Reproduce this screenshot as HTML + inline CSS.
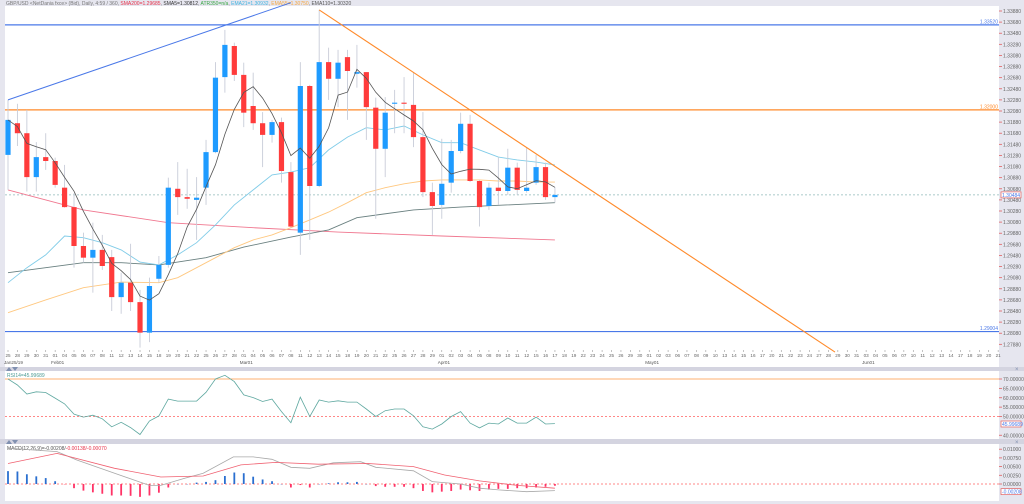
<!DOCTYPE html>
<html><head><meta charset="utf-8"><style>
html,body{margin:0;padding:0;background:#e6e6ef;}
svg{display:block;font-family:"Liberation Sans",sans-serif;}
</style></head><body>
<svg id="chart" width="1024" height="504" viewBox="0 0 1024 504">
<rect x="0" y="0" width="1024" height="504" fill="#e6e6ef"/>
<rect x="5" y="6" width="994" height="344" fill="#ffffff"/>
<rect x="5" y="350" width="994" height="17" fill="#ffffff"/>
<rect x="0" y="367" width="1024" height="4" fill="#d4d4e0"/>
<rect x="5" y="371" width="994" height="68" fill="#ffffff"/>
<rect x="0" y="439" width="1024" height="5" fill="#d4d4e0"/>
<rect x="5" y="444" width="994" height="57" fill="#ffffff"/>
<text x="6" y="5" font-size="5" fill="#777">GBP/USD &lt;NetDania fxce&gt; (Bid), Daily, 4:59 / 360, <tspan fill="#e8334a">SMA200=1.29685</tspan>, <tspan fill="#333">SMA5=1.30812</tspan>, <tspan fill="#3aa845">ATR350=n/a</tspan>, <tspan fill="#3fb3e0">EMA21=1.30932</tspan>, <tspan fill="#f5a742">EMA55=1.30750</tspan>, <tspan fill="#555">EMA110=1.30320</tspan></text>
<text x="7" y="377" font-size="5" fill="#4d9c94">RSI14=45.99689</text>
<text x="7" y="450" font-size="5" fill="#555">MACD(12,26,9)=-0.00208/<tspan fill="#e8334a">-0.00138/-0.00070</tspan></text>
<polygon points="6,371 9,367 12,371" fill="#8090b0"/>
<polygon points="12,367 18,367 15,371" fill="#8090b0"/>
<polygon points="6,444 9,440 12,444" fill="#8090b0"/>
<polygon points="12,440 18,440 15,444" fill="#8090b0"/>
<text x="1015" y="371" font-size="6" fill="#8090b0">×</text>
<text x="1015" y="444" font-size="6" fill="#8090b0">×</text>
<g id="layer"></g>
</svg>
<script>
// ---- data ----
const opens  = [1.3129,1.3186,1.3168,1.3089,1.3125,1.3118,1.3070,1.3035,1.2965,1.2944,1.2958,1.2945,1.2873,1.2899,1.2864,1.2809,1.2906,1.2931,1.3068,1.3053,1.3048,1.3070,1.3134,1.3269,1.3325,1.3273,1.3217,1.3186,1.3165,1.3188,1.3098,1.2989,1.3253,1.3073,1.3296,1.3266,1.3305,1.3275,1.3278,1.3214,1.3140,1.3221,1.3223,1.3219,1.3161,1.3062,1.3039,1.3079,1.3136,1.3185,1.3082,1.3037,1.3070,1.3064,1.3106,1.3064,1.3079,1.3107,1.3053];
const highs  = [1.3228,1.3221,1.3210,1.3152,1.3168,1.3124,1.3111,1.3060,1.2989,1.3007,1.2985,1.2958,1.2917,1.2969,1.2886,1.2908,1.2947,1.3088,1.3116,1.3104,1.3089,1.3156,1.3296,1.3354,1.3331,1.3295,1.3277,1.3206,1.3192,1.3196,1.3116,1.3296,1.3255,1.3390,1.3322,1.3318,1.3318,1.3327,1.3278,1.3232,1.3233,1.3246,1.3269,1.3277,1.3206,1.3079,1.3158,1.3156,1.3205,1.3201,1.3084,1.3079,1.3125,1.3140,1.3115,1.3143,1.3129,1.3115,1.3071];
const lows   = [1.3066,1.3145,1.3063,1.3063,1.3102,1.3070,1.3034,1.2926,1.2935,1.2881,1.2922,1.2848,1.2843,1.2848,1.2782,1.2792,1.2899,1.2926,1.3021,1.3032,1.2976,1.3039,1.3132,1.3241,1.3262,1.3179,1.3174,1.3107,1.3151,1.3079,1.2998,1.2949,1.2976,1.3071,1.3228,1.3215,1.3192,1.3250,1.3156,1.3014,1.3089,1.3168,1.3168,1.3143,1.3053,1.2985,1.3014,1.3061,1.3132,1.3080,1.3000,1.3030,1.3039,1.3057,1.3057,1.3061,1.3075,1.3048,1.3043];
const closes = [1.3192,1.3168,1.3089,1.3125,1.3118,1.3075,1.3035,1.2965,1.2944,1.2958,1.2929,1.2873,1.2899,1.2864,1.2809,1.2893,1.2931,1.3070,1.3053,1.3050,1.3052,1.3134,1.3268,1.3327,1.3273,1.3205,1.3186,1.3165,1.3188,1.3100,1.3000,1.3253,1.3073,1.3296,1.3266,1.3295,1.3280,1.3278,1.3215,1.3140,1.3205,1.3223,1.3221,1.3161,1.3062,1.3037,1.3077,1.3136,1.3185,1.3082,1.3035,1.3070,1.3064,1.3106,1.3066,1.3070,1.3107,1.3053,1.3057];
const sma200Idx = [0,8,17,26,35,46,58];
const sma200Val = [1.3066,1.3030,1.3007,1.2998,1.2990,1.2983,1.2976];
const ema21Idx = [0,2,4,6,8,10,12,14,16,18,20,22,24,26,28,30,32,34,36,38,40,42,44,46,48,50,52,54,56,58];
const ema21Val = [1.2899,1.2926,1.2949,1.2983,1.2980,1.2971,1.2958,1.2936,1.2931,1.2949,1.2971,1.3003,1.3039,1.3066,1.3093,1.3098,1.3106,1.3138,1.3161,1.3178,1.3174,1.3181,1.3165,1.3151,1.3151,1.3138,1.3125,1.3120,1.3116,1.3111];
const ema55Idx = [0,4,8,12,16,18,20,22,24,26,28,30,32,34,36,38,40,42,44,46,48,50,52,54,56,58];
const ema55Val = [1.2845,1.2868,1.2890,1.2900,1.2899,1.2908,1.2926,1.2944,1.2962,1.2976,1.2985,1.2998,1.3012,1.3026,1.3043,1.3061,1.3070,1.3077,1.3082,1.3084,1.3084,1.3084,1.3082,1.3082,1.3080,1.3080];
const ema110Idx = [0,4,8,12,16,21,25,30,34,37,43,48,58];
const ema110Val = [1.2917,1.2926,1.2935,1.2935,1.2931,1.2944,1.2963,1.2981,1.2994,1.3016,1.3030,1.3035,1.3043];
const rsiVals = [70,66.8,62,63.2,62.8,59.8,56.7,51.3,49.7,50.7,48.8,44.5,46.9,44.1,40.4,47.6,50.3,59.3,58.2,58.2,58.2,62.9,70,72,68.6,61.5,60.1,58,59.3,52.6,46.7,60.3,50,58.8,57.7,58.4,57.7,57.7,54,50,53.1,54,54,50.4,44.5,43.3,46,50,52.6,46.5,43.9,46.5,46,49.2,46.5,46.5,49.7,46,46.2];
const histVals = [0.0037,0.0036,0.0028,0.0022,0.0017,0.0008,-0.0001,-0.0012,-0.0019,-0.0024,-0.0028,-0.0033,-0.0033,-0.0034,-0.0037,-0.0033,-0.0025,-0.0010,0,0,0.0004,0.0006,0.0011,0.0023,0.0033,0.0031,0.0021,0.0013,0.0008,0,-0.0010,-0.0003,-0.0010,0,0.0002,0.0005,0.0005,0.0006,0,-0.0006,-0.0008,-0.0008,-0.0008,-0.0012,-0.0020,-0.0024,-0.0022,-0.0020,-0.0016,-0.0018,-0.0020,-0.0016,-0.0014,-0.0014,-0.0012,-0.0012,-0.0010,-0.0008,-0.0005];
const macdIdx = [0,5.2,7.3,11.3,15,16.2,18.7,20.7,23.9,26,28,30,32,34.5,37.4,39,43,45,48,50,52,55,58];
const macdVal = [0.0103,0.0093,0.0069,0.0031,-0.0004,-0.0004,0.0016,0.0031,0.0078,0.0078,0.0071,0.0048,0.0045,0.0061,0.0064,0.0048,0.0038,0.0007,0,-0.0012,-0.0017,-0.0022,-0.0019];
const sigIdx = [0,5.2,11.3,16.2,20.7,24.7,28.4,32.9,38.2,43,46.3,50,54,58];
const sigVal = [0.0059,0.0088,0.0045,0.0020,0.0023,0.0055,0.0062,0.0057,0.0059,0.0050,0.0026,0.0009,-0.0004,-0.0012];
const priceTicks = [1.3388,1.3368,1.3348,1.3328,1.3308,1.3288,1.3268,1.3248,1.3228,1.3208,1.3188,1.3168,1.3148,1.3128,1.3108,1.3088,1.3068,1.3048,1.3028,1.3008,1.2988,1.2968,1.2948,1.2928,1.2908,1.2888,1.2868,1.2848,1.2828,1.2808,1.2788];
const rsiTicks = [70,65,60,55,50,40];
const macdTicks = [0.01,0.0075,0.005,0.0025,0];
const hLines = [{p:1.3363,label:"1.33520",color:"#4a78e8"},{p:1.3210,label:"1.32000",color:"#ff8a2a"},{p:1.2811,label:"1.29004",color:"#4a78e8"}];
const lastPrice = 1.3057;
const blueTrend = [[0,1.3228],[30,1.3403]];
const orangeTrend = [[33,1.3390],[87.7,1.2774]];

// ---- scales ----
const X = i => 8 + 9.43*i;
const Y = p => (1.34078 - p)/0.00018;
const RY = v => 416.5 - (v-50)*1.875;
const MY = v => 484 - v*3480;
const NS = "http://www.w3.org/2000/svg";
const layer = document.getElementById('layer');
function mk(tag, attrs){const e=document.createElementNS(NS,tag);for(const k in attrs)e.setAttribute(k,attrs[k]);layer.appendChild(e);return e;}

// price axis
priceTicks.forEach(p=>{
  const y=Y(p);
  const t=mk('line',{x1:999,x2:1002,y1:y,y2:y,stroke:'#e06060','stroke-width':0.8});
  
  
  const l=mk('text',{x:1003,y:y+2,'font-size':5,fill:'#666'});
  
  
  l.textContent=p.toFixed(5);
});
// date axis
const months=["Jan","Feb","Mar","Apr","May","Jun"];
let d=new Date(2019,0,25); let idx=0; let lastM=-1;
while(idx<=105){
  const dow=d.getDay();
  if(dow!==0&&dow!==6){
    const x=X(idx);
    const tk=mk('line',{x1:x,x2:x,y1:350,y2:352,stroke:'#999','stroke-width':0.6});
    
    
    const tl=mk('text',{x:x,y:357,'font-size':4.6,fill:'#666','text-anchor':'middle'});
    
    
    tl.textContent=String(d.getDate()).padStart(2,'0');
    if(d.getMonth()!==lastM){
      const ml=mk('text',{x:x-4,y:364,'font-size':4.6,fill:'#555'});
      
      
      ml.textContent= idx===0 ? "Jan25/19" : months[d.getMonth()]+"01";
      lastM=d.getMonth();
    }
    idx++;
  }
  d.setDate(d.getDate()+1);
}
// horizontal lines
hLines.forEach(h=>{
  const y=Y(h.p);
  const l=mk('line',{x1:5,x2:999,y1:y,y2:y,stroke:h.color,'stroke-width':1.2});
  
  
  const t=mk('text',{x:998,y:y-1.5,'font-size':5,fill:h.color,'text-anchor':'end'});
  
  
  t.textContent=h.label;
});
const ly=Y(lastPrice);
const lpl=mk('line',{x1:5,x2:999,y1:ly,y2:ly,stroke:'#8fb8b8','stroke-width':0.8,'stroke-dasharray':'2,2'});


const lpb=mk('rect',{x:1001,y:ly-3,width:20,height:6,fill:'#fff',stroke:'#e06060','stroke-width':0.7});


const lpt=mk('text',{x:1002,y:ly+2,'font-size':5,fill:'#4a78e8'});


lpt.textContent="1.30484";

function line(idxs, vals, ys, color, w, name){
  const pts=idxs.map((i,k)=>X(i).toFixed(1)+','+ys(vals[k]).toFixed(1)).join(' ');
  const e=mk('polyline',{points:pts,fill:'none',stroke:color,'stroke-width':w});
  
  
}
// MAs
line(sma200Idx,sma200Val,Y,'#f07890',0.9,'sma200-line');
line(ema110Idx,ema110Val,Y,'#6a8080',0.9,'ema110-line');
line(ema55Idx,ema55Val,Y,'#ffc880',0.9,'ema55-line');
line(ema21Idx,ema21Val,Y,'#80cce8',0.9,'ema21-line');

// candles
closes.forEach((c,i)=>{
  const x=X(i), o=opens[i];
  const w=mk('line',{x1:x,x2:x,y1:Y(highs[i]),y2:Y(lows[i]),stroke:'#c8ccd8','stroke-width':0.9});
  
  
  const top=Y(Math.max(o,c)), bot=Y(Math.min(o,c));
  const b=mk('rect',{x:x-2.6,y:top,width:5.2,height:Math.max(1,bot-top),fill:c>=o?'#1e9bff':'#ff3b3b'});
  
  
});
// SMA5 from closes
const s5i=[],s5v=[];
closes.forEach((c,i)=>{const a=closes.slice(Math.max(0,i-4),i+1);s5i.push(i);s5v.push(a.reduce((s,v)=>s+v,0)/a.length);});
line(s5i,s5v,Y,'#555',0.8,'sma5-line');

// trendlines
line(blueTrend.map(p=>p[0]),blueTrend.map(p=>p[1]),Y,'#4a78e8',1,'blue-trendline');
line(orangeTrend.map(p=>p[0]),orangeTrend.map(p=>p[1]),Y,'#ff8a2a',1.1,'orange-trendline');

// RSI
rsiTicks.forEach(v=>{
  const y=RY(v);
  const t=mk('line',{x1:999,x2:1002,y1:y,y2:y,stroke:'#e06060','stroke-width':0.8});
  
  
  const l=mk('text',{x:1003,y:y+2,'font-size':5,fill:'#666'});
  
  
  l.textContent=v.toFixed(5);
});
const r70=mk('line',{x1:5,x2:999,y1:RY(70),y2:RY(70),stroke:'#ffb070','stroke-width':1});


const r50=mk('line',{x1:5,x2:999,y1:RY(50),y2:RY(50),stroke:'#ff6060','stroke-width':0.7,'stroke-dasharray':'2,2'});


line(rsiVals.map((v,i)=>i),rsiVals,RY,'#5fa8a0',0.8,'rsi-line');
const rb=mk('rect',{x:1001,y:RY(46)-3,width:20,height:6,fill:'#fff',stroke:'#e06060','stroke-width':0.7});


const rt=mk('text',{x:1002,y:RY(46)+2,'font-size':5,fill:'#4a78e8'});


rt.textContent="45.99689";

// MACD
macdTicks.forEach(v=>{
  const y=MY(v);
  const t=mk('line',{x1:999,x2:1002,y1:y,y2:y,stroke:'#e06060','stroke-width':0.8});
  
  
  const l=mk('text',{x:1003,y:y+2,'font-size':5,fill:'#666'});
  
  
  l.textContent=v.toFixed(5);
});
const mz=mk('line',{x1:5,x2:999,y1:MY(0),y2:MY(0),stroke:'#ff6060','stroke-width':0.7,'stroke-dasharray':'2,2'});


histVals.forEach((v,i)=>{
  const y0=MY(0), y1=MY(v);
  const b=mk('rect',{x:X(i)-0.9,y:Math.min(y0,y1),width:1.8,height:Math.max(0.3,Math.abs(y1-y0)),fill:v>=0?'#2a6fd0':'#ff3366'});
  
  
});
line(macdIdx,macdVal,MY,'#a8a8a8',0.8,'macd-line');
line(sigIdx,sigVal,MY,'#f06070',0.8,'macd-signal-line');
const mb=mk('rect',{x:1001,y:MY(-0.0022)-3,width:20,height:6,fill:'#fff',stroke:'#e06060','stroke-width':0.7});


const mt=mk('text',{x:1002,y:MY(-0.0022)+2,'font-size':5,fill:'#4a78e8'});


mt.textContent="-0.00208";
</script>
</body></html>
